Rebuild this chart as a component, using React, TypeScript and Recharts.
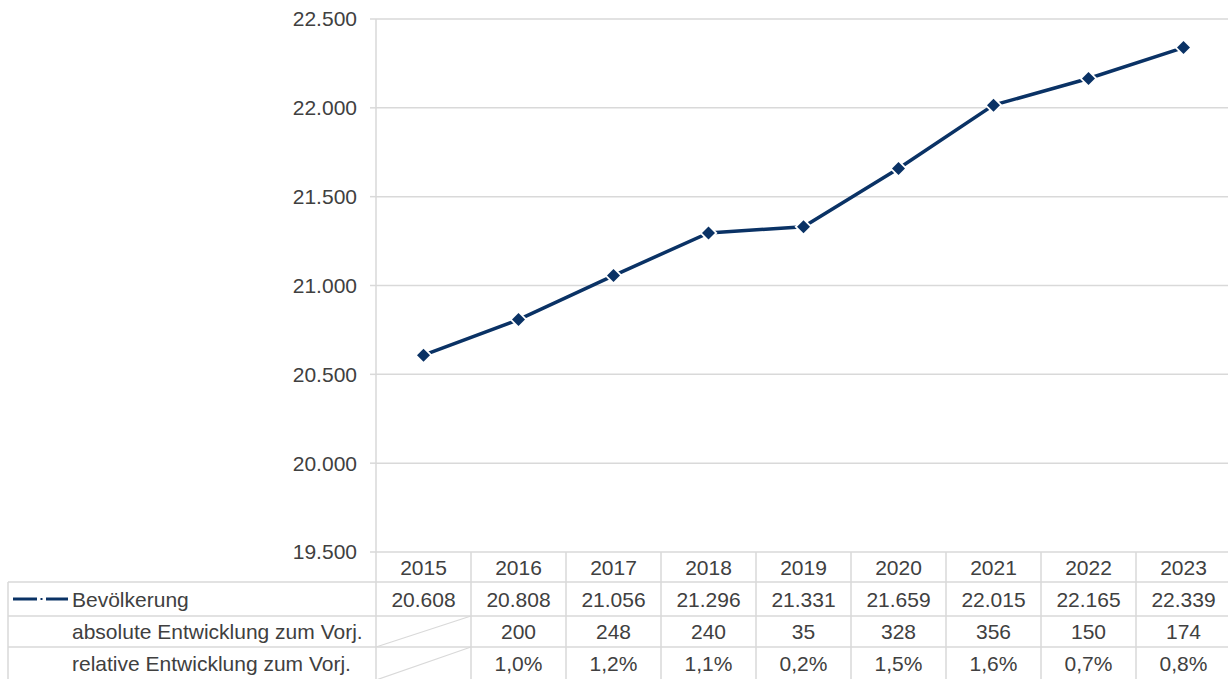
import React from 'react';
import { LineChart, Line, XAxis, YAxis, CartesianGrid } from 'recharts';

const years = ['2015', '2016', '2017', '2018', '2019', '2020', '2021', '2022', '2023'];
const population = [20608, 20808, 21056, 21296, 21331, 21659, 22015, 22165, 22339];
const absoluteChange: (number | null)[] = [null, 200, 248, 240, 35, 328, 356, 150, 174];
const relativeChange: (number | null)[] = [null, 1.0, 1.2, 1.1, 0.2, 1.5, 1.6, 0.7, 0.8];
const yTicks = [19500, 20000, 20500, 21000, 21500, 22000, 22500];
const rowLabels = ['Bevölkerung', 'absolute Entwicklung zum Vorj.', 'relative Entwicklung zum Vorj.'];

const data = years.map((year, i) => ({
  year,
  population: population[i],
  abs: absoluteChange[i],
  rel: relativeChange[i],
}));

const LINE_COLOR = '#0A3265';
const GRID = '#d9d9d9';
const TEXT = '#404040';
const FONT = 'Liberation Sans, Arial, sans-serif';
const FS = 21;

const fmtThousands = (v: number) => {
  const th = Math.floor(v / 1000);
  const rest = v % 1000;
  return th > 0 ? `${th}.${String(rest).padStart(3, '0')}` : String(rest);
};
const fmtPct = (v: number) => v.toFixed(1).replace('.', ',') + '%';

const Diamond = (props: any) => {
  const { cx, cy } = props;
  if (cx == null || cy == null) return null;
  const s = 6.5;
  const g = 9;
  return (
    <g>
      <polygon
        points={`${cx},${cy - g} ${cx + g},${cy} ${cx},${cy + g} ${cx - g},${cy}`}
        fill="#ffffff"
      />
      <polygon
        points={`${cx},${cy - s} ${cx + s},${cy} ${cx},${cy + s} ${cx - s},${cy}`}
        fill={LINE_COLOR}
      />
    </g>
  );
};

const HALF = 47.5;

const TableTick = (props: any) => {
  const { x, y, payload } = props;
  const i = years.indexOf(String(payload.value));
  if (i < 0) return null;
  const r1 = y + 30;
  const r2 = y + 64;
  const r3 = y + 95;
  const r4 = y + 128;
  const left = x - HALF;
  const right = x + HALF;
  const textProps = { fill: TEXT, fontSize: FS, fontFamily: FONT, textAnchor: 'middle' as const, dy: '0.36em' };
  const absV = absoluteChange[i];
  const relV = relativeChange[i];
  return (
    <g>
      <line x1={right} x2={right} y1={y} y2={r4} stroke={GRID} strokeWidth={1.5} />
      {[r1, r2, r3].map((ry, k) => (
        <line key={k} x1={left} x2={right} y1={ry} y2={ry} stroke={GRID} strokeWidth={1.5} />
      ))}
      {i === 0 && (
        <g>
          <line x1={left} x2={left} y1={y} y2={r4} stroke={GRID} strokeWidth={1.5} />
          {[r1, r2, r3].map((ry, k) => (
            <line key={k} x1={8} x2={left} y1={ry} y2={ry} stroke={GRID} strokeWidth={1.5} />
          ))}
          <line x1={8} x2={8} y1={r1} y2={r4} stroke={GRID} strokeWidth={1.5} />
          <line x1={13} x2={37} y1={(r1 + r2) / 2} y2={(r1 + r2) / 2} stroke={LINE_COLOR} strokeWidth={3} />
          <line x1={46} x2={68} y1={(r1 + r2) / 2} y2={(r1 + r2) / 2} stroke={LINE_COLOR} strokeWidth={3} />
          <rect x={40.5} y={(r1 + r2) / 2 - 1} width={2} height={2} fill={LINE_COLOR} />
          <text x={72} y={(r1 + r2) / 2} fill={TEXT} fontSize={FS} fontFamily={FONT} dy="0.36em">{rowLabels[0]}</text>
          <text x={72} y={(r2 + r3) / 2} fill={TEXT} fontSize={FS} fontFamily={FONT} dy="0.36em">{rowLabels[1]}</text>
          <text x={72} y={(r3 + r4) / 2} fill={TEXT} fontSize={FS} fontFamily={FONT} dy="0.36em">{rowLabels[2]}</text>
        </g>
      )}
      {absV == null && (
        <line x1={left} x2={right} y1={r3} y2={r2} stroke={GRID} strokeWidth={1.2} />
      )}
      {relV == null && (
        <line x1={left} x2={right} y1={r4} y2={r3} stroke={GRID} strokeWidth={1.2} />
      )}
      <text x={x} y={(y + r1) / 2} {...textProps}>{years[i]}</text>
      <text x={x} y={(r1 + r2) / 2} {...textProps}>{fmtThousands(population[i])}</text>
      {absV != null && <text x={x} y={(r2 + r3) / 2} {...textProps}>{String(absV)}</text>}
      {relV != null && <text x={x} y={(r3 + r4) / 2} {...textProps}>{fmtPct(relV)}</text>}
    </g>
  );
};

export default function App() {
  return (
    <div style={{ position: 'absolute', left: 0, top: 0, width: 1228, height: 679, overflow: 'hidden', background: '#fff' }}>
      <LineChart
        width={1240}
        height={679}
        data={data}
        margin={{ top: 19, right: 9, left: 0, bottom: 0 }}
        style={{ fontFamily: FONT }}
      >
        <CartesianGrid vertical={false} stroke={GRID} strokeWidth={1.5} />
        <XAxis
          dataKey="year"
          height={127}
          interval={0}
          axisLine={false}
          tickLine={false}
          tickSize={0}
          tickMargin={0}
          padding={{ left: HALF, right: HALF }}
          tick={(p: any) => <TableTick {...p} />}
        />
        <YAxis
          width={376}
          domain={[19500, 22500]}
          ticks={yTicks}
          interval={0}
          tickFormatter={fmtThousands}
          tick={{ fill: TEXT, fontSize: FS, fontFamily: FONT }}
          tickSize={6}
          tickMargin={13}
          axisLine={{ stroke: GRID, strokeWidth: 1.5 }}
          tickLine={{ stroke: GRID, strokeWidth: 1.5 }}
        />
        <Line
          type="linear"
          dataKey="population"
          stroke={LINE_COLOR}
          strokeWidth={3.5}
          dot={<Diamond />}
          activeDot={false}
          isAnimationActive={false}
        />
      </LineChart>
    </div>
  );
}
